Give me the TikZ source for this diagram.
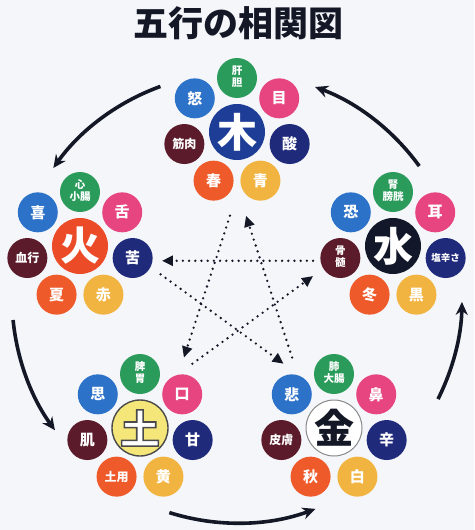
\documentclass[tikz,border=0pt]{standalone}
\usepackage{fontspec}
\newfontfamily\jp{Noto Sans CJK JP}
\usetikzlibrary{calc,arrows.meta}
\definecolor{bg}{HTML}{F4F6FA}
\definecolor{sc1}{HTML}{2A9B5B}
\definecolor{sc2}{HTML}{E6457F}
\definecolor{sc3}{HTML}{1F2A7A}
\definecolor{sc4}{HTML}{F2B440}
\definecolor{sc5}{HTML}{EF5A2A}
\definecolor{sc6}{HTML}{5B1B2B}
\definecolor{sc7}{HTML}{2C72C9}
\definecolor{ink}{HTML}{141826}
\definecolor{mokuc}{HTML}{1D3D96}
\definecolor{kac}{HTML}{EB4B27}
\definecolor{suic}{HTML}{12182A}
\definecolor{doc}{HTML}{F4E678}
\definecolor{dok}{HTML}{4A4A4A}
\definecolor{kinr}{HTML}{8A8A8A}
\newcommand\stk[2]{{\fontsize{10.5}{11}\selectfont\begin{tabular}{@{}c@{}}#1\\#2\end{tabular}}}
\newcommand\two[1]{{\fontsize{12}{12}\selectfont #1}}
\newcommand\three[1]{{\fontsize{9.5}{10}\selectfont #1}}
\newcommand\outlined[1]{{\color{white}\special{pdf:literal direct 0.29 G 1.6 w 2 Tr}#1\special{pdf:literal direct 0 Tr}}}
\newcommand\satring[2]{%
  \foreach \t [count=\i] in {#2} {
    \pgfmathsetmacro\ang{90-(\i-1)*360/7}
    \node[sat, fill=sc\i] (#1s\i) at ($(#1)+(\ang:54pt)$) {\t};
  }}
\begin{document}
\begin{tikzpicture}[x=1pt,y=-1pt,
  sat/.style={circle, minimum size=40pt, inner sep=0pt, text=white,
    font=\jp\bfseries\fontsize{15}{15}\selectfont},
  ctr/.style={circle, minimum size=56pt, inner sep=0pt, text=white,
    font=\jp\bfseries\fontsize{40}{40}\selectfont},
  bigarr/.style={draw=ink, line width=3.6pt, -{Stealth[length=13pt,width=12pt]}},
  stararr/.style={draw=ink, line width=2.6pt, line cap=round,
    dash pattern=on 0pt off 6.2pt, -{Triangle[length=11pt,width=10pt]}}]
\fill[bg] (0,0) rectangle (474,530);
\useasboundingbox (0,0) rectangle (474,530);

\node[font=\jp\bfseries\fontsize{35}{35}\selectfont, text=ink] (title) at (238,23) {五行の相関図};

% big cycle
\coordinate (O) at (237,298);
\coordinate (w1) at ($(O)+(35.9:225pt)$);
\coordinate (w2) at ($(O)+(109.9:225pt)$);
\coordinate (w3) at ($(O)+(185.6:225pt)$);
\coordinate (w4) at ($(O)+(252.5:225pt)$);
\coordinate (w5) at ($(O)+(333.3:225pt)$);
\draw[bigarr] (w1) arc[start angle=35.9, end angle=69.7, radius=225pt];
\draw[bigarr] (w2) arc[start angle=109.9, end angle=144.7, radius=225pt];
\draw[bigarr] (w3) arc[start angle=185.6, end angle=216, radius=225pt];
\draw[bigarr] (w4) arc[start angle=252.5, end angle=290.4, radius=225pt];
\draw[bigarr] (w5) arc[start angle=333.3, end angle=359, radius=225pt];

% star
\coordinate (S) at (238,292);
\coordinate (v0) at ($(S)+(90:101pt)$);
\coordinate (v1) at ($(S)+(162:101pt)$);
\coordinate (v2) at ($(S)+(234:101pt)$);
\coordinate (v3) at ($(S)+(306:101pt)$);
\coordinate (v4) at ($(S)+(18:101pt)$);
\draw[stararr, shorten <=26pt, shorten >=17pt] (v0) -- (v2);
\draw[stararr, shorten <=17pt, shorten >=26pt] (v2) -- (v4);
\draw[stararr, shorten <=21pt, shorten >=20pt] (v4) -- (v1);
\draw[stararr, shorten <=23pt, shorten >=17pt] (v1) -- (v3);
\draw[stararr, shorten <=17pt, shorten >=26pt] (v3) -- (v0);

% centres
\node[ctr, fill=mokuc] (moku) at (237,132) {木};
\node[ctr, fill=kac] (ka) at (80,246) {火};
\node[ctr, fill=suic] (sui) at (393,246) {水};
\node[ctr, fill=doc, draw=dok, line width=1.4pt] (do) at (140,428) {\outlined{土}};
\node[ctr, fill=white, draw=kinr, line width=1pt, text=ink] (kin) at (334,428) {金};

\satring{moku}{{\stk{肝}{胆}},目,酸,青,春,{\two{筋肉}},怒}
\satring{ka}{{\stk{心}{小腸}},舌,苦,赤,夏,{\two{血行}},喜}
\satring{sui}{{\stk{腎}{膀胱}},耳,{\three{塩辛さ}},黒,冬,{\stk{骨}{髄}},恐}
\satring{do}{{\stk{脾}{胃}},口,甘,黄,{\two{土用}},肌,思}
\satring{kin}{{\stk{肺}{大腸}},鼻,辛,白,秋,{\two{皮膚}},悲}
\end{tikzpicture}
\end{document}
